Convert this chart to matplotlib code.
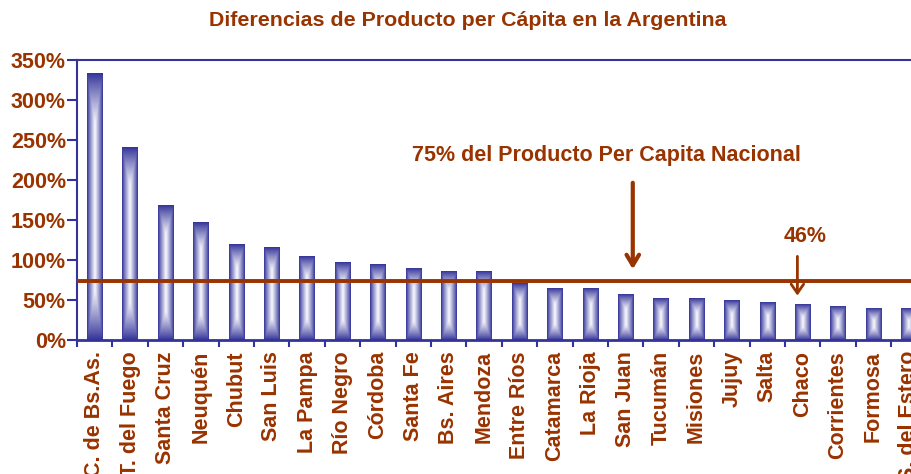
import numpy as np
import matplotlib
matplotlib.use('Agg')
import matplotlib.pyplot as plt
from matplotlib.colors import to_rgb

# Datos: producto per cápita relativo al promedio nacional (%)
provincias = ['C. de Bs.As.', 'T. del Fuego', 'Santa Cruz', 'Neuquén', 'Chubut',
              'San Luis', 'La Pampa', 'Río Negro', 'Córdoba', 'Santa Fe',
              'Bs. Aires', 'Mendoza', 'Entre Ríos', 'Catamarca', 'La Rioja',
              'San Juan', 'Tucumán', 'Misiones', 'Jujuy', 'Salta', 'Chaco',
              'Corrientes', 'Formosa', 'S. del Estero']
valores = [333, 241, 168, 147, 119, 116, 105, 97, 95, 90, 86, 86, 71, 64, 64,
           57, 52, 52, 50, 47, 45, 42, 40, 40]
umbral = 73.5
y_ticks = [0, 50, 100, 150, 200, 250, 300, 350]

marron = '#993300'
azul = '#333399'
fs = 15.5

plt.rcParams['font.family'] = ['Liberation Sans', 'DejaVu Sans']
plt.rcParams['font.weight'] = 'bold'

fig = plt.figure(figsize=(9.12, 4.74), dpi=100)
ax = fig.add_axes([77 / 912, 134 / 474, 849.6 / 912, 280 / 474])

x = np.arange(len(provincias))
barras = ax.bar(x, valores, width=0.43, color='none', edgecolor='none', zorder=2)

# degradado "desde el centro" para cada barra
nx, ny = 40, 300
u = np.linspace(0, 1, nx)
v = np.linspace(0, 1, ny)
U, V = np.meshgrid(u, v)
c_azul = np.array(to_rgb(azul))
c_blanco = np.array([0.98, 0.98, 1.0])
px_por_unidad = 0.8
for b in barras:
    x0 = b.get_x()
    x1 = x0 + b.get_width()
    h = b.get_height()
    hpx = h * px_por_unidad
    zona = min(0.5, (8 + 0.16 * hpx) / hpx)  # fracción oscura arriba/abajo
    dx = np.abs(2 * U - 1)
    dy = np.abs(2 * V - 1)
    dyn = np.clip((dy - (1 - 2 * zona)) / (2 * zona), 0, 1)
    d = np.maximum(dx, dyn)
    w = (1 - d) ** 0.9
    img = c_azul[None, None, :] + (c_blanco - c_azul)[None, None, :] * w[..., None]
    ax.imshow(img, extent=(x0, x1, 0, h), aspect='auto', origin='lower',
              interpolation='bilinear', zorder=2)

# línea del 75%
ax.axhline(umbral - 1.4, color='#E8A070', lw=1.2, zorder=3)
ax.axhline(umbral, color=marron, lw=2.8, zorder=4)

ax.set_xlim(-0.5, len(provincias) - 0.5)
ax.set_ylim(0, 350)
ax.set_yticks(y_ticks)
ax.set_yticklabels([f'{t}%' for t in y_ticks], color=marron, fontsize=fs, fontweight='bold')
ax.set_xticks(x)
ax.set_xticklabels(provincias, rotation=90, color=marron, fontsize=fs,
                   fontweight='bold', ha='center', va='top')
ax.tick_params(axis='x', length=0, pad=8)
ax.set_xticks(np.arange(len(provincias) + 1) - 0.5, minor=True)
ax.tick_params(axis='x', which='minor', length=5, width=1.5, color=azul, direction='out')
ax.tick_params(axis='y', length=7, width=1.5, color=azul, pad=1)

for lado in ['left', 'bottom', 'top']:
    ax.spines[lado].set_color(azul)
    ax.spines[lado].set_linewidth(1.5)
ax.spines['bottom'].set_linewidth(2)
ax.spines['right'].set_visible(False)

ax.annotate('', xy=(15.2, 85), xytext=(15.2, 200),
            arrowprops=dict(arrowstyle='->,head_length=0.75,head_width=0.45',
                            color=marron, lw=3), zorder=5)
ax.text(14.45, 231, '75% del Producto Per Capita Nacional', color=marron,
        fontsize=fs, fontweight='bold', ha='center', va='center')

ax.annotate('', xy=(19.85, 52), xytext=(19.85, 108),
            arrowprops=dict(arrowstyle='->,head_length=0.65,head_width=0.45',
                            color=marron, lw=2), zorder=5)
ax.text(20.06, 129, '46%', color=marron, fontsize=fs, fontweight='bold',
        ha='center', va='center')

fig.text(468 / 912, 1 - 21 / 474, 'Diferencias de Producto per Cápita en la Argentina',
         color=marron, fontsize=15.4, fontweight='bold', ha='center', va='center')

fig.savefig('out.png', dpi=100)
